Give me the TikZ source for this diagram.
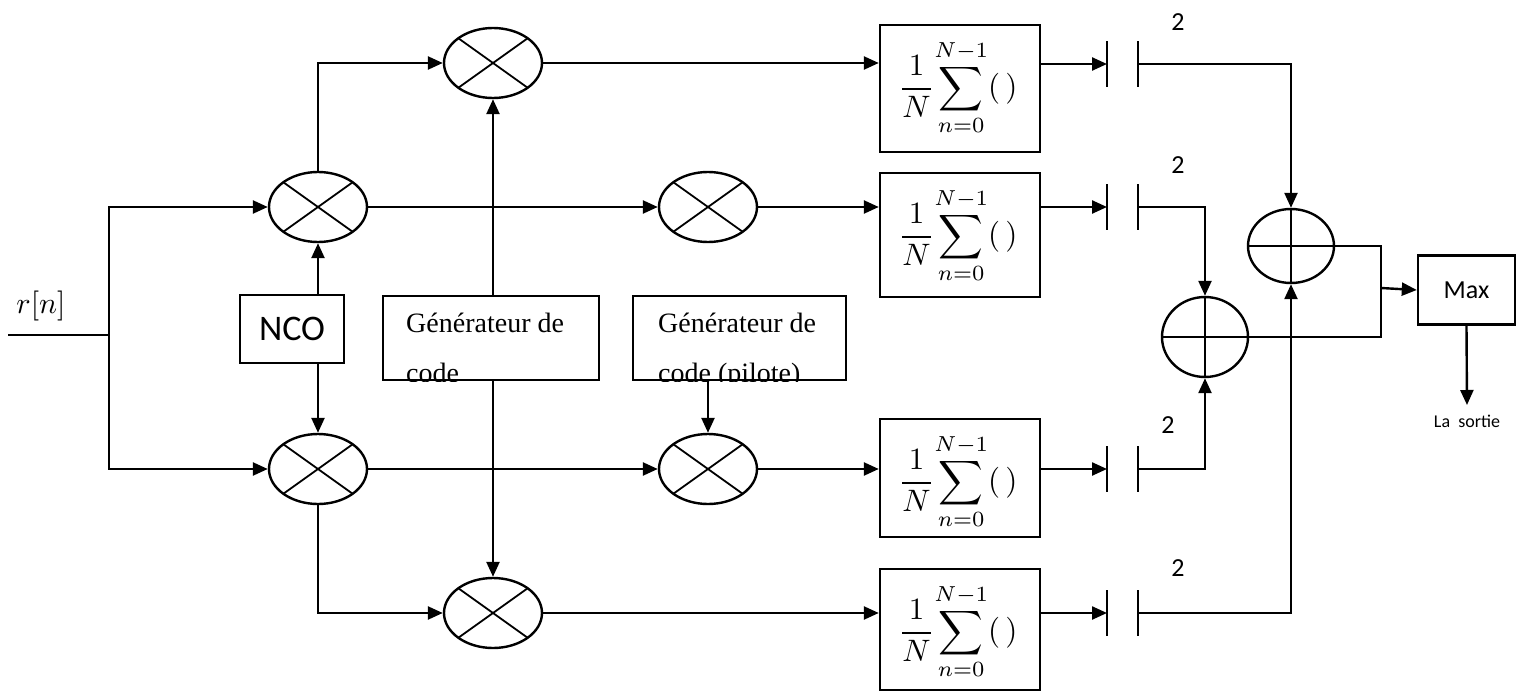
\documentclass[tikz,border=0pt]{standalone}
\usepackage{amsmath}
\usepackage{fontspec}
\newfontfamily\calfont{Carlito}
\newfontfamily\serfont{Liberation Serif}
\usetikzlibrary{calc,shapes.geometric,arrows.meta}
\def\sumexpr{\scalebox{1.55}{$\displaystyle\frac{1}{N}\!\sum_{n=0}^{N-1}(\,)$}}
\def\sumbox(#1)(#2)(#3){\node[sumbox, minimum height=#3] (#1) at (#2) {};
	\begin{scope}\clip (#1.south west) rectangle (#1.north east);
		\node[anchor=north, inner sep=0pt] (#1txt) at ($(#1.north)+(-2,15)$) {\sumexpr};
	\end{scope}}

\begin{document}
\begin{tikzpicture}[x=0.5pt, y=-0.5pt, line width=1.2pt, >={Triangle[length=7.5pt,width=6.5pt]},
	mixer/.style={draw, ellipse, minimum width=49pt, minimum height=35pt, inner sep=0pt,
		path picture={\draw[line width=0.9pt]
			($(path picture bounding box.center)!0.707!(path picture bounding box.north east)$) -- ($(path picture bounding box.center)!0.707!(path picture bounding box.south west)$)
			($(path picture bounding box.center)!0.707!(path picture bounding box.north west)$) -- ($(path picture bounding box.center)!0.707!(path picture bounding box.south east)$);}},
	adder/.style={draw, ellipse, minimum width=43pt, inner sep=0pt,
		path picture={\draw[line width=0.9pt] (path picture bounding box.north) -- (path picture bounding box.south)
			(path picture bounding box.west) -- (path picture bounding box.east);}},
	blockbox/.style={draw, rectangle, inner sep=0pt},
	sumbox/.style={blockbox, minimum width=80pt},
	genbox/.style={blockbox, minimum height=42pt},
	gentxt/.style={anchor=base west, inner sep=0pt, font=\serfont\fontsize{14}{16}\selectfont},
	sqlbl/.style={inner sep=0pt, font=\calfont\fontsize{13}{15}\selectfont},
	bar/.style={line width=0.9pt}]
		%%%%% START %%%%%
		\useasboundingbox (0,0) rectangle (1523,691);
		
		% input
		\coordinate (in) at (8,335);
		\coordinate (split) at (109,335);
		\node[inner sep=0pt] (rlbl) at (41,306) {\scalebox{1.5}{$r[n]$}};
		
		% mixers
		\node[mixer] (M1) at (318,207) {};
		\node[mixer] (M2) at (318,469) {};
		\node[mixer] (M3) at (493,63) {};
		\node[mixer] (M4) at (708,207) {};
		\node[mixer] (M5) at (708,469) {};
		\node[mixer] (M6) at (493,613) {};
		
		% NCO and code generators
		\node[blockbox, minimum width=52pt, minimum height=34pt, font=\calfont\fontsize{18}{20}\selectfont] (NCO) at (292,329) {NCO};
		\node[genbox, minimum width=108pt] (G1) at (491,338) {};
		\begin{scope}
			\clip (G1.south west) rectangle (G1.north east);
			\node[gentxt] (G1a) at (405,332) {Générateur de};
			\node[gentxt] (G1b) at (405,382) {code};
		\end{scope}
		\node[genbox, minimum width=106.5pt] (G2) at (739.5,338) {};
		\begin{scope}
			\clip (G2.south west) rectangle (G2.north east);
			\node[gentxt] (G2a) at (657,332) {Générateur de};
			\node[gentxt] (G2b) at (657,382) {code (pilote)};
		\end{scope}
		
		% accumulators
		\sumbox(S1)(960,88.5)(63.5pt)
		\sumbox(S2)(960,235)(62pt)
		\sumbox(S3)(960,478)(59pt)
		\sumbox(S4)(960,629.5)(60.5pt)
		
		% squaring
		\coordinate (Q1) at (1107,64);  \coordinate (R1) at (1138,64);
		\coordinate (Q2) at (1107,207); \coordinate (R2) at (1138,207);
		\coordinate (Q3) at (1107,469); \coordinate (R3) at (1138,469);
		\coordinate (Q4) at (1107,613); \coordinate (R4) at (1138,613);
		\draw[bar] ($(Q1)+(0,-23)$) -- ($(Q1)+(0,23)$) ($(R1)+(0,-23)$) -- ($(R1)+(0,23)$);
		\draw[bar] ($(Q2)+(0,-23)$) -- ($(Q2)+(0,23)$) ($(R2)+(0,-23)$) -- ($(R2)+(0,23)$);
		\draw[bar] ($(Q3)+(0,-23)$) -- ($(Q3)+(0,23)$) ($(R3)+(0,-23)$) -- ($(R3)+(0,23)$);
		\draw[bar] ($(Q4)+(0,-23)$) -- ($(Q4)+(0,23)$) ($(R4)+(0,-23)$) -- ($(R4)+(0,23)$);
		\node[sqlbl] (E1) at (1178,22) {2};
		\node[sqlbl] (E2) at (1178,165) {2};
		\node[sqlbl] (E3) at (1168,425) {2};
		\node[sqlbl] (E4) at (1178,568) {2};
		
		% adders and max
		\node[adder, minimum height=37pt] (A1) at (1291,246) {};
		\node[adder, minimum height=40pt] (A2) at (1205,337) {};
		\coordinate (J) at (1381,288);
		\node[blockbox, minimum width=48.5pt, minimum height=34.5pt, font=\calfont\fontsize{13}{15}\selectfont] (Max) at (1466.5,290) {Max};
		\coordinate (out) at (1467,405);
		\node[inner sep=0pt, font=\calfont\fontsize{9}{11}\selectfont] (outlbl) at (1467,421) {La~~sortie};
		
		% connectors
		\draw[bar] (in) -- (split);
		\draw[->] (split) |- (M1.west);
		\draw[->] (split) |- (M2.west);
		\draw[->] (NCO.north -| M1) -- (M1.south);
		\draw[->] (NCO.south -| M2) -- (M2.north);
		\draw[->] (M1.north) |- (M3.west);
		\draw[->] (M1.east) -- (M4.west);
		\draw[->] (M2.east) -- (M5.west);
		\draw[->] (M2.south) |- (M6.west);
		\draw[->] (G1.north -| M3) -- (M3.south);
		\draw[->] (G1.south -| M6) -- (M6.north);
		\draw[->] (G2.south -| M5) -- (M5.north);
		
		\draw[->] (M3.east) -- (M3 -| S1.west);
		\draw[->] (M4.east) -- (M4 -| S2.west);
		\draw[->] (M5.east) -- (M5 -| S3.west);
		\draw[->] (M6.east) -- (M6 -| S4.west);
		
		\draw[->] (S1.east |- Q1) -- (Q1);
		\draw[->] (S2.east |- Q2) -- (Q2);
		\draw[->] (S3.east |- Q3) -- (Q3);
		\draw[->] (S4.east |- Q4) -- (Q4);
		
		\draw[->] (R1) -| (A1.north);
		\draw[->] (R4) -| (A1.south);
		\draw[->] (R2) -| (A2.north);
		\draw[->] (R3) -| (A2.south);
		
		\draw (A1.east) -| (J);
		\draw (A2.east) -| (J);
		\draw[->] (J) -- (Max.west);
		\draw[->] (Max.south) -- (out);
		%%%%% END %%%%%
\end{tikzpicture}
\end{document}
